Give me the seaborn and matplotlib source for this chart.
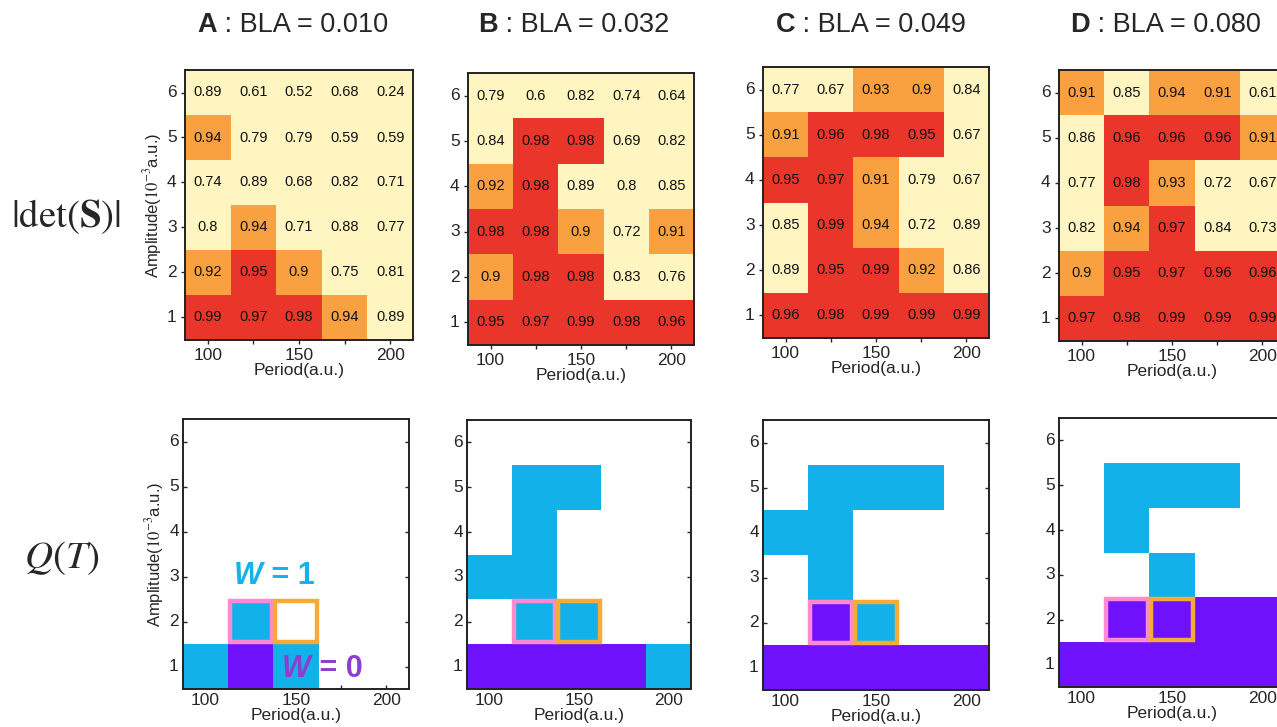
import numpy as np
import pandas as pd
import matplotlib
matplotlib.use("Agg")
import matplotlib.pyplot as plt
import seaborn as sns
from matplotlib.colors import ListedColormap, BoundaryNorm
from matplotlib.patches import Rectangle

sns.set_style("white")
plt.rcParams['font.family'] = ['Liberation Sans', 'DejaVu Sans']
plt.rcParams['mathtext.fontset'] = 'stix'

# data
periods = [100, 125, 150, 175, 200]
amplitudes = [6, 5, 4, 3, 2, 1]          # top to bottom
panel_letters = ["A", "B", "C", "D"]
bla_values = ["0.010", "0.032", "0.049", "0.080"]

det_A = [[0.89, 0.61, 0.52, 0.68, 0.24],
         [0.94, 0.79, 0.79, 0.59, 0.59],
         [0.74, 0.89, 0.68, 0.82, 0.71],
         [0.80, 0.94, 0.71, 0.88, 0.77],
         [0.92, 0.95, 0.90, 0.75, 0.81],
         [0.99, 0.97, 0.98, 0.94, 0.89]]
det_B = [[0.79, 0.60, 0.82, 0.74, 0.64],
         [0.84, 0.98, 0.98, 0.69, 0.82],
         [0.92, 0.98, 0.89, 0.80, 0.85],
         [0.98, 0.98, 0.90, 0.72, 0.91],
         [0.90, 0.98, 0.98, 0.83, 0.76],
         [0.95, 0.97, 0.99, 0.98, 0.96]]
det_C = [[0.77, 0.67, 0.93, 0.90, 0.84],
         [0.91, 0.96, 0.98, 0.95, 0.67],
         [0.95, 0.97, 0.91, 0.79, 0.67],
         [0.85, 0.99, 0.94, 0.72, 0.89],
         [0.89, 0.95, 0.99, 0.92, 0.86],
         [0.96, 0.98, 0.99, 0.99, 0.99]]
det_D = [[0.91, 0.85, 0.94, 0.91, 0.61],
         [0.86, 0.96, 0.96, 0.96, 0.91],
         [0.77, 0.98, 0.93, 0.72, 0.67],
         [0.82, 0.94, 0.97, 0.84, 0.73],
         [0.90, 0.95, 0.97, 0.96, 0.96],
         [0.97, 0.98, 0.99, 0.99, 0.99]]

n = np.nan
# winding number W (nan = no value)
w_A = [[n, n, n, n, n],
       [n, n, n, n, n],
       [n, n, n, n, n],
       [n, n, n, n, n],
       [n, 1, n, n, n],
       [1, 0, 1, n, n]]
w_B = [[n, n, n, n, n],
       [n, 1, 1, n, n],
       [n, 1, n, n, n],
       [1, 1, n, n, n],
       [n, 1, 1, n, n],
       [0, 0, 0, 0, 1]]
w_C = [[n, n, n, n, n],
       [n, 1, 1, 1, n],
       [1, 1, n, n, n],
       [n, 1, n, n, n],
       [n, 0, 1, n, n],
       [0, 0, 0, 0, 0]]
w_D = [[n, n, n, n, n],
       [n, 1, 1, 1, n],
       [n, 1, n, n, n],
       [n, n, 1, n, n],
       [n, 0, 0, 0, 0],
       [0, 0, 0, 0, 0]]

det_data = [det_A, det_B, det_C, det_D]
w_data = [w_A, w_B, w_C, w_D]

# highlighted cells (period, amplitude)
pink_cell = (125, 2)
orange_cell = (150, 2)

W, H = 1277, 727
fig = plt.figure(figsize=(W / 100, H / 100), dpi=100)

def box(l, r, t, b):
    return [l / W, (H - b) / H, (r - l) / W, (b - t) / H]

top_boxes = [box(185, 413, 70, 340), box(468, 694, 73, 345),
             box(763, 989, 67, 338), box(1059, 1285, 70, 341)]
bot_boxes = [box(183, 409, 419, 689), box(467, 691, 420, 689),
             box(763, 989, 420, 690), box(1059, 1285, 418, 687)]
title_anchor = [217, 498, 795, 1090]

det_cmap = ListedColormap(["#fff5c0", "#f9a140", "#e9352a"])
det_norm = BoundaryNorm([0, 0.895, 0.945, 1.01], 3)
w_cmap = ListedColormap(["#6f12fb", "#12b1ea"])
w_norm = BoundaryNorm([-0.5, 0.5, 1.5], 2)

def style_axes(ax, direction):
    for s in ax.spines.values():
        s.set_visible(True)
        s.set_color("#222222")
        s.set_linewidth(1.4)
    ax.set_xticks(np.arange(len(periods)) + 0.5)
    ax.set_xticklabels([str(p) if p % 50 == 0 else "" for p in periods], fontsize=12.5)
    ax.set_yticks(np.arange(len(amplitudes)) + 0.5)
    ax.set_yticklabels([str(a) for a in amplitudes], fontsize=12.5, rotation=0)
    ax.tick_params(axis="both", length=3, width=1, direction=direction,
                   left=True, bottom=True, pad=3)
    if direction == "in":
        ax.tick_params(axis="y", right=True)
    ax.set_xlabel("Period(a.u.)", fontsize=12.5, labelpad=0)
    ax.set_ylabel("")

for i in range(4):
    df = pd.DataFrame(det_data[i], index=amplitudes, columns=periods)
    ax = fig.add_axes(top_boxes[i])
    sns.heatmap(df, ax=ax, cmap=det_cmap, norm=det_norm, cbar=False,
                annot=True, fmt="g", annot_kws={"fontsize": 10.5, "color": "#111111"})
    style_axes(ax, "out")
    fig.text(title_anchor[i] / W, 1 - 25 / H, panel_letters[i],
             ha="right", va="center", fontsize=19.5, fontweight="bold")
    fig.text(title_anchor[i] / W, 1 - 25 / H, " : BLA = " + bla_values[i],
             ha="left", va="center", fontsize=19.5)

    dfw = pd.DataFrame(w_data[i], index=amplitudes, columns=periods)
    axb = fig.add_axes(bot_boxes[i])
    sns.heatmap(dfw, ax=axb, cmap=w_cmap, norm=w_norm, cbar=False)
    style_axes(axb, "in")
    for cell, col in [(pink_cell, "#ff8ad2"), (orange_cell, "#f5aa3c")]:
        cx = periods.index(cell[0])
        cy = amplitudes.index(cell[1])
        axb.add_patch(Rectangle((cx + 0.04, cy + 0.04), 0.92, 0.92, fill=False,
                                edgecolor=col, linewidth=3.2, zorder=5))
    if i == 0:
        ax.set_ylabel(r"Amplitude($10^{-3}$a.u.)", fontsize=12, labelpad=2)
        axb.set_ylabel(r"Amplitude($10^{-3}$a.u.)", fontsize=12, labelpad=2)
        axb.text(1.76, 3.5, "W", color="#15b2ea", fontsize=22,
                 ha="right", va="center", fontweight="bold", style="italic")
        axb.text(1.76, 3.5, " = 1", color="#15b2ea", fontsize=22,
                 ha="left", va="center", fontweight="bold")
        axb.text(2.83, 5.55, "W", color="#8a3fd0", fontsize=22,
                 ha="right", va="center", fontweight="bold", style="italic")
        axb.text(2.83, 5.55, " = 0", color="#8a3fd0", fontsize=22,
                 ha="left", va="center", fontweight="bold")

fig.text(66 / W, 1 - 217 / H, r"$|\det(\mathbf{S})|$", ha="center", va="center", fontsize=28)
fig.text(62 / W, 1 - 558 / H, r"$Q(T)$", ha="center", va="center", fontsize=28)

fig.savefig("out.png", dpi=100)
